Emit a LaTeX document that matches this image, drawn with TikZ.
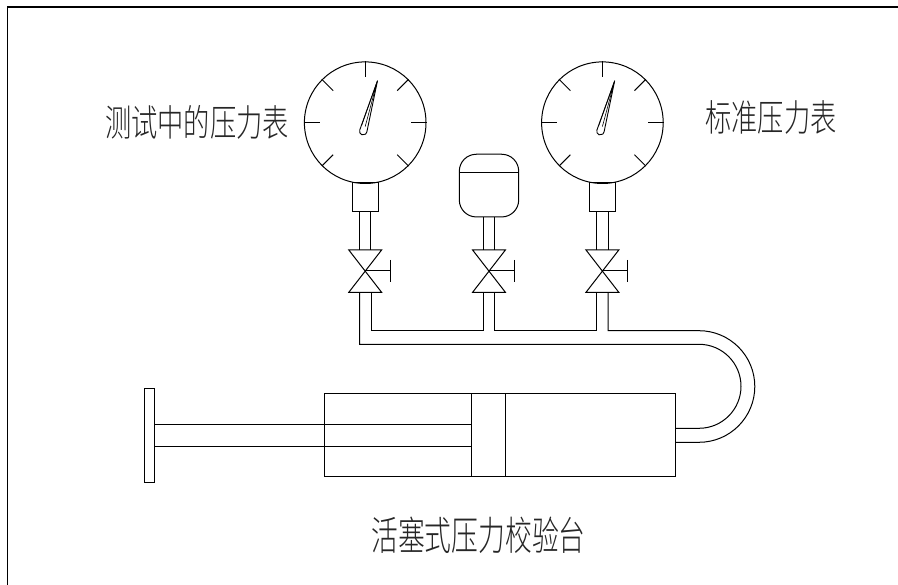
\documentclass[tikz,border=0pt]{standalone}
\usepackage{fontspec}
\newfontfamily\cjklight{Noto Sans CJK SC Light}
\tikzset{
  x=1pt,y=-1pt,
  ln/.style={draw=black,line width=1pt,line join=miter},
  frameline/.style={draw=black,line width=1.4pt},
  lbl/.style={font=\cjklight\fontsize{37}{37}\selectfont,xscale=.71,inner sep=0pt,text=black!85},
  dial/.style={ln,circle,minimum size=121.6pt,inner sep=0pt},
  neck/.style={ln,minimum width=26pt,minimum height=29pt,inner sep=0pt},
}
\newcommand{\gaugeunit}[2]{% #1 name, #2 centre x
  \begin{scope}[shift={(#2,0)}]
    \node[dial] (#1) at (0,122.7) {};
    \node[neck] (#1n) at (0,197.2) {};
    \foreach \a in {0,45,90,135,180,225,315}
      \draw[ln] (#1.\a) -- ($(#1.\a)!16pt!(#1.center)$);
    \coordinate (#1c) at (-2,131.3);
    \coordinate (#1t) at (12.3,80.7);
    \draw[ln,line width=.9pt] (#1t) -- (-5.48,130.05) arc[start angle=-160.2,end angle=-348.2,radius=3.7] -- cycle;
    \draw[line width=.6pt] (#1t) -- (-3.6,125.5) (#1t) -- (0.0,126.5);
    \draw[ln] (-5.6,211.7) -- (-5.6,250) (5.7,211.7) -- (5.7,250);
    \valveunit{#1v}
  \end{scope}
}
\newcommand{\valveunit}[1]{%
  \coordinate (#1) at (0,271);
  \draw[ln] (-16.4,250) -- (16.4,250) -- (-16.4,292.3) -- (16.4,292.3) -- cycle;
  \draw[ln] (#1) -- (25,271) (25,260) -- (25,282.3);
}
\usetikzlibrary{calc}
\begin{document}
\begin{tikzpicture}
\useasboundingbox (0,0) rectangle (898,585);
\draw[frameline] (7.5,585) -- (7.5,7) -- (898,7);

\gaugeunit{ga}{365.2}
\gaugeunit{gb}{602.4}

% middle vessel
\node[ln,rounded corners=17pt,minimum width=59.4pt,minimum height=62.7pt,inner sep=0pt] (vessel) at (489,185.6) {};
\draw[ln] (459.3,172.3) -- (518.7,172.3);
\draw[ln] (483.4,217) -- (483.4,250) (494.7,217) -- (494.7,250);
\begin{scope}[shift={(489,0)}]
  \valveunit{gm}
\end{scope}

% piping
\draw[ln] (359.7,292.3) -- (359.7,344.3) -- (699,344.3)
  arc[start angle=-90,end angle=90,radius=42] -- (675,428.3);
\draw[ln] (371,292.3) -- (371,330.7) -- (483.4,330.7) -- (483.4,292.3);
\draw[ln] (494.7,292.3) -- (494.7,330.7) -- (596.8,330.7) -- (596.8,292.3);
\draw[ln] (608.1,292.3) -- (608.1,330.7) -- (699,330.7)
  arc[start angle=-90,end angle=90,radius=55.8] -- (675,442.3);

% piston pump
\node[ln,minimum width=351pt,minimum height=82.7pt,inner sep=0pt] (cyl) at (499.5,435.3) {};
\node[ln,minimum width=34.5pt,minimum height=82.7pt,inner sep=0pt] (piston) at (488.7,435.3) {};
\node[ln,minimum width=10.5pt,minimum height=94pt,inner sep=0pt] (flange) at (149.7,435.3) {};
\draw[ln] (flange.east |- 0,424.3) -- (piston.west |- 0,424.3);
\draw[ln] (flange.east |- 0,446.3) -- (piston.west |- 0,446.3);

% labels
\node[lbl] (l1) at (197,122.5) {测试中的压力表};
\node[lbl] (l2) at (771,117) {标准压力表};
\node[lbl,xscale=1.02,yscale=1.08] (l3) at (478.5,535) {活塞式压力校验台};
\end{tikzpicture}
\end{document}
